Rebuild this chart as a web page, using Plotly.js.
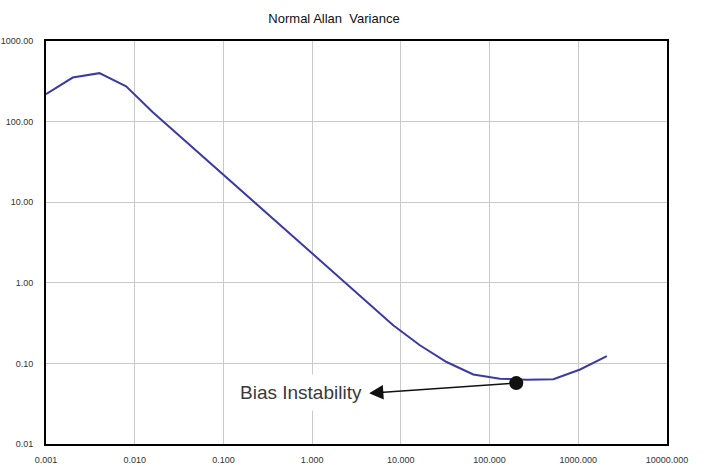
<!DOCTYPE html>
<html>
<head>
<meta charset="utf-8">
<script src="https://cdn.plot.ly/plotly-3.0.1.min.js"></script>
<style>html,body{margin:0;padding:0;background:#fff;}#chart{width:704px;height:470px;}</style>
</head>
<body>
<div id="chart"></div>
<script>
// Averaging time tau (s) and Allan variance values
const tau = [0.001, 0.002, 0.004, 0.008, 0.016, 0.032, 0.064, 0.128, 0.256, 0.512, 1.024,
             2.048, 4.096, 8.192, 16.384, 32.768, 65.536, 131.072, 262.144, 524.288, 1048.576, 2097.152];
const allanVar = [219, 352, 399, 274, 131, 66.6, 34.0, 17.4, 8.9, 4.49, 2.27,
                  1.15, 0.583, 0.298, 0.168, 0.104, 0.0728, 0.0646, 0.0628, 0.0637, 0.084, 0.123];

// Bias instability marker
const biasTau = [200];
const biasVal = [0.057];
const biasLabel = "Bias Instability";

const xTickVals = [0.001, 0.01, 0.1, 1, 10, 100, 1000, 10000];
const xTickText = ["0.001", "0.010", "0.100", "1.000", "10.000", "100.000", "1000.000", "10000.000"];
const yTickVals = [0.01, 0.1, 1, 10, 100, 1000];
const yTickText = ["0.01", "0.10", "1.00", "10.00", "100.00", "1000.00"];

const labelFont = "Liberation Sans, Arial, sans-serif";

const traces = [
  {
    x: tau, y: allanVar, type: "scatter", mode: "lines",
    line: {color: "#3b3ba3", width: 2},
    hoverinfo: "skip", showlegend: false
  },
  {
    x: biasTau, y: biasVal, type: "scatter", mode: "markers",
    marker: {color: "#111", size: 14},
    hoverinfo: "skip", showlegend: false
  }
];

const axisCommon = {
  type: "log",
  showgrid: true, gridcolor: "#c9c9c9", gridwidth: 1,
  zeroline: false,
  showline: true, linecolor: "#000", linewidth: 2, mirror: true,
  ticks: "",
  tickfont: {family: labelFont, size: 9, color: "#333"},
  fixedrange: true
};

const layout = {
  width: 704, height: 470,
  margin: {l: 46, r: 37, t: 41, b: 26},
  paper_bgcolor: "#fff", plot_bgcolor: "#fff",
  title: {
    text: "Normal Allan  Variance",
    font: {family: labelFont, size: 13, color: "#111"},
    x: 334 / 704, xref: "container", xanchor: "center",
    y: 1 - 18 / 470, yref: "container", yanchor: "middle"
  },
  xaxis: Object.assign({}, axisCommon, {
    range: [-3, 4], tickvals: xTickVals, ticktext: xTickText, ticklabelstandoff: 6
  }),
  yaxis: Object.assign({}, axisCommon, {
    range: [-2, 3], tickvals: yTickVals, ticktext: yTickText, ticklabelstandoff: 9
  }),
  annotations: [
    {
      // arrow from the marker toward the label
      xref: "x", yref: "y", axref: "x", ayref: "y",
      x: -3 + 323 / 88.7, y: 3 - 351.8 / 80.5,
      ax: Math.log10(biasTau[0]), ay: Math.log10(biasVal[0]),
      text: "", showarrow: true,
      arrowhead: 2, arrowsize: 2.2, arrowwidth: 1.3, arrowcolor: "#111",
      standoff: 0, startstandoff: 0
    },
    {
      xref: "x", yref: "y",
      x: -3 + 255.3 / 88.7, y: 3 - 351 / 80.5,
      text: biasLabel, showarrow: false,
      font: {family: labelFont, size: 19, color: "#3a3a3a"},
      bgcolor: "#fff", borderpad: 7,
      xanchor: "center", yanchor: "middle"
    }
  ]
};

Plotly.newPlot("chart", traces, layout, {displayModeBar: false, staticPlot: true});
</script>
</body>
</html>
